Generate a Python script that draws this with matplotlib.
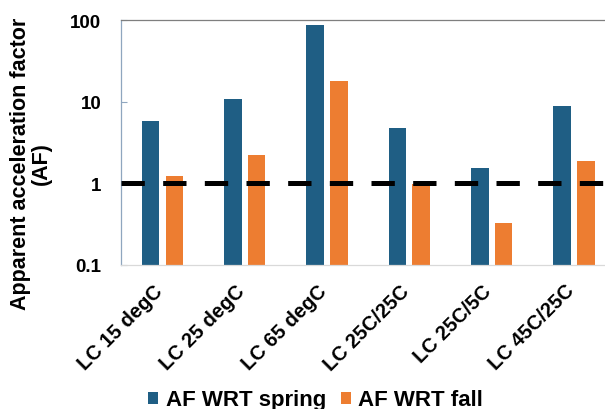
import matplotlib
matplotlib.use("Agg")
import matplotlib.pyplot as plt
import numpy as np
from matplotlib.transforms import ScaledTranslation

plt.rcParams['font.family'] = ['Liberation Sans', 'DejaVu Sans']
plt.rcParams['font.weight'] = 'bold'
plt.rcParams['lines.scale_dashes'] = False

categories = ["LC 15 degC", "LC 25 degC", "LC 65 degC", "LC 25C/25C", "LC 25C/5C", "LC 45C/25C"]
af_spring = [5.84, 10.8, 87.5, 4.71, 1.55, 8.85]
af_fall = [1.23, 2.23, 17.9, 0.97, 0.324, 1.85]
series_names = ["AF WRT spring", "AF WRT fall"]
reference_af = 1.0
y_ticks = [0.1, 1, 10, 100]
y_tick_labels = ["0.1", "1", "10", "100"]

blue = "#1F5E84"
orange = "#ED7D31"

fig = plt.figure(figsize=(6.05, 4.10), dpi=100)
ax = fig.add_axes([121.3/605, 1-265.5/410, 493.8/605, 244.2/410])

x = np.arange(len(categories))
w = 0.214
off = 0.145
ax.bar(x - off, af_spring, width=w, color=blue, label=series_names[0], zorder=2)
ax.bar(x + off, af_fall, width=w, color=orange, label=series_names[1], zorder=2)
ax.axhline(reference_af, color='black', lw=3.6, dashes=(16.8, 13.2),
           solid_capstyle='butt', dash_capstyle='butt', zorder=3)

ax.set_yscale('log')
ax.set_ylim(0.1, 100)
ax.set_xlim(-0.5, len(categories) - 0.5)
ax.set_yticks(y_ticks)
ax.set_yticklabels(y_tick_labels)
ax.yaxis.set_minor_locator(matplotlib.ticker.NullLocator())
ax.tick_params(axis='y', direction='in', length=4.3, width=0.8, color='#8FA6BF',
               pad=14.4, labelsize=13.5)
ax.set_xticks(x)
ax.set_xticklabels(categories, rotation=45, ha='right', va='center',
                   rotation_mode='anchor', fontsize=14.5)
ax.tick_params(axis='x', length=0, pad=16.5)
for lab in ax.get_xticklabels():
    lab.set_transform(lab.get_transform() + ScaledTranslation(-3.0/100, 0, fig.dpi_scale_trans))

ax.spines['left'].set_color('#8FA6BF')
ax.spines['left'].set_linewidth(0.9)
ax.spines['top'].set_color('#7F7F7F')
ax.spines['top'].set_linewidth(0.9)
ax.spines['bottom'].set_color('#D9D9D9')
ax.spines['bottom'].set_linewidth(0.9)
ax.spines['right'].set_visible(False)

fig.text(31/605, 1-164/410, "Apparent acceleration factor\n(AF)", rotation=90,
         ha='center', va='center', multialignment='center', linespacing=1.0,
         fontsize=15.5, fontweight='bold')

fig.legend(loc='center', bbox_to_anchor=(0.522, 0.022), ncol=2, frameon=False,
           fontsize=16, handlelength=0.46, handleheight=0.46, handletextpad=0.32,
           columnspacing=0.69, borderpad=0, borderaxespad=0)

fig.savefig("out.png", dpi=100)
